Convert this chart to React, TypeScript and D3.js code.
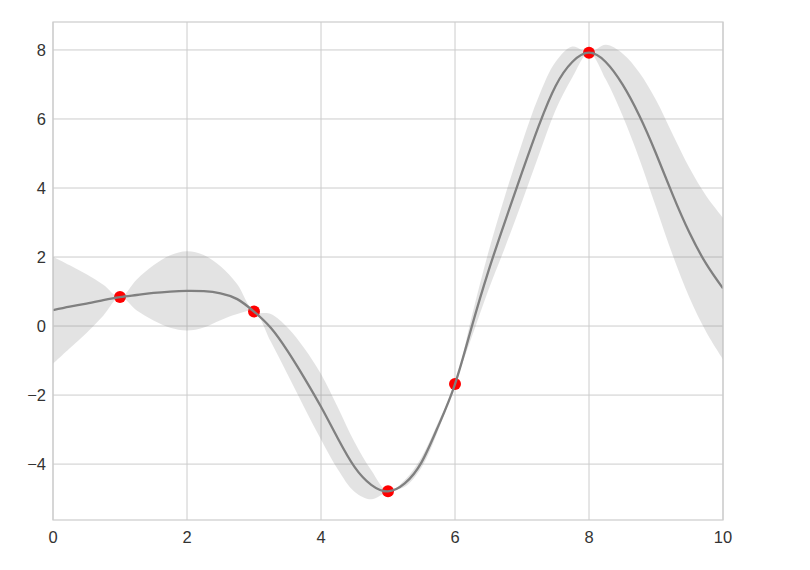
import React from "react";
import * as d3 from "d3";

const xData = [1, 3, 5, 6, 8];
const yData = [0.84, 0.42, -4.79, -1.68, 7.92];

const xFit = [0, 0.25, 0.5, 0.75, 1, 1.25, 1.5, 1.75, 2, 2.25, 2.5, 2.75, 3, 3.25, 3.5, 3.75, 4, 4.25, 4.5, 4.75, 5, 5.25, 5.5, 5.75, 6, 6.25, 6.5, 6.75, 7, 7.25, 7.5, 7.75, 8, 8.25, 8.5, 8.75, 9, 9.25, 9.5, 9.75, 10];
const yFit = [0.46, 0.56, 0.65, 0.75, 0.84, 0.9, 0.96, 1.0, 1.02, 1.01, 0.95, 0.78, 0.42, -0.05, -0.72, -1.5, -2.34, -3.25, -4.08, -4.6, -4.79, -4.56, -3.95, -2.9, -1.68, -0.02, 1.6, 3.05, 4.45, 5.8, 6.95, 7.65, 7.92, 7.65, 7.0, 6.1, 5.0, 3.8, 2.7, 1.8, 1.09];
const dyFit = [1.55, 1.2, 0.85, 0.45, 0, 0.45, 0.8, 1.05, 1.15, 1.05, 0.78, 0.43, 0, 0.4, 0.68, 0.86, 0.95, 0.9, 0.72, 0.42, 0, 0.1, 0.15, 0.12, 0, 0.3, 0.55, 0.75, 0.85, 0.85, 0.7, 0.45, 0, 0.5, 0.9, 1.25, 1.55, 1.75, 1.88, 1.97, 2.05];

const xTicks = [0, 2, 4, 6, 8, 10];
const yTicks = [-4, -2, 0, 2, 4, 6, 8];

const W = 810, H = 570;
const L = 53, R = 723, T = 22, B = 520;

export default function App() {
  const x = d3.scaleLinear().domain([0, 10]).range([L, R]);
  const y = d3.scaleLinear().domain([-5.62, 8.81]).range([B, T]);
  const pts = xFit.map((v, i) => ({ x: v, m: yFit[i], d: dyFit[i] }));
  const area = d3.area<any>()
    .x((d) => x(d.x))
    .y0((d) => y(d.m - d.d))
    .y1((d) => y(d.m + d.d))
    .curve(d3.curveCatmullRom.alpha(0.5));
  const line = d3.line<any>()
    .x((d) => x(d.x))
    .y((d) => y(d.m))
    .curve(d3.curveNatural);
  const fmt = (v: number) => (v < 0 ? "\u2212" + Math.abs(v) : String(v));
  const font = "'Liberation Sans', Arial, sans-serif";
  return (
    <svg width={W} height={H} style={{ position: "absolute", left: 0, top: 0, background: "#fff" }}>
      <defs>
        <clipPath id="clip">
          <rect x={L} y={T} width={R - L} height={B - T} />
        </clipPath>
      </defs>
      {xTicks.map((t) => (
        <line key={"gx" + t} x1={x(t)} x2={x(t)} y1={T} y2={B} stroke="#cccccc" strokeWidth={1} />
      ))}
      {yTicks.map((t) => (
        <line key={"gy" + t} x1={L} x2={R} y1={y(t)} y2={y(t)} stroke="#cccccc" strokeWidth={1} />
      ))}
      <g clipPath="url(#clip)">
        {xData.map((v, i) => (
          <circle key={"p" + i} cx={x(v)} cy={y(yData[i])} r={6} fill="#ff0000" />
        ))}
        <path d={line(pts) || ""} fill="none" stroke="#808080" strokeWidth={2.3} />
        <path d={area(pts) || ""} fill="#808080" fillOpacity={0.22} stroke="none" />
      </g>
      <rect x={L} y={T} width={R - L} height={B - T} fill="none" stroke="#cccccc" strokeWidth={1.2} />
      {xTicks.map((t) => (
        <text key={"tx" + t} x={x(t)} y={B + 23} textAnchor="middle" fontFamily={font} fontSize={16.5} fill="#333333">
          {fmt(t)}
        </text>
      ))}
      {yTicks.map((t) => (
        <text key={"ty" + t} x={L - 7} y={y(t)} dy="0.35em" textAnchor="end" fontFamily={font} fontSize={16.5} fill="#333333">
          {fmt(t)}
        </text>
      ))}
    </svg>
  );
}
